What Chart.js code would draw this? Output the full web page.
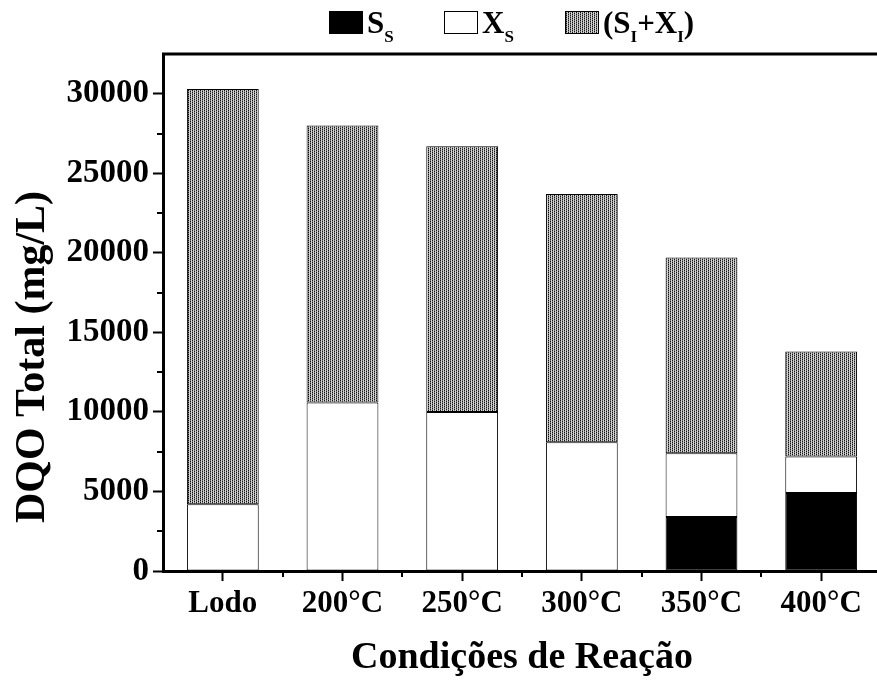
<!DOCTYPE html>
<html>
<head>
<meta charset="utf-8">
<script src="https://cdn.jsdelivr.net/npm/chart.js@4.4.1/dist/chart.umd.min.js"></script>
<style>
  html, body { margin: 0; padding: 0; background: #fff; overflow: hidden; }
</style>
</head>
<body>
<canvas id="dqo-chart" width="881" height="681"></canvas>
<script>
const categories = ['Lodo', '200°C', '250°C', '300°C', '350°C', '400°C'];
const ss   = [0, 0, 0, 0, 3400, 4900];
const xs   = [4200, 10600, 10000, 8100, 4000, 2300];
const sixi = [26100, 17400, 16700, 15600, 12300, 6600];
const yTicks = [0, 5000, 10000, 15000, 20000, 25000, 30000];

const FONT = '"Liberation Serif", "Times New Roman", serif';
const Y_TITLE = 'DQO Total (mg/L)';

// dotted grey fill for the inert fraction
function dotPattern() {
  const c = document.createElement('canvas');
  c.width = 4; c.height = 4;
  const g = c.getContext('2d');
  g.fillStyle = '#d4d4d4';
  g.fillRect(0, 0, 4, 4);
  for (let y = 0; y < 4; y++) {
    for (let x = 0; x < 4; x++) {
      const k = (x + 2 * y) % 4;
      if (k === 0) { g.fillStyle = '#111'; g.fillRect(x, y, 1, 1); }
      else if (k === 2) { g.fillStyle = '#7a7a7a'; g.fillRect(x, y, 1, 1); }
    }
  }
  return g.createPattern(c, 'repeat');
}
const grey = dotPattern();

// legend text split into normal / subscript pieces
const legendParts = [
  [['S', false], ['S', true]],
  [['X', false], ['S', true]],
  [['(S', false], ['I', true], ['+X', false], ['I', true], [')', false]]
];

const frameAndMinor = {
  id: 'frameAndMinor',
  afterDraw(chart) {
    const ctx = chart.ctx;
    const { x, y } = chart.scales;
    const area = chart.chartArea;
    ctx.save();
    ctx.strokeStyle = '#000';
    // top frame line
    ctx.lineWidth = 3;
    ctx.beginPath();
    ctx.moveTo(area.left - 1, area.top);
    ctx.lineTo(area.right, area.top);
    ctx.stroke();
    // minor ticks
    ctx.lineWidth = 2;
    ctx.beginPath();
    for (let v = 2500; v < y.max; v += 5000) {
      const py = Math.round(y.getPixelForValue(v));
      ctx.moveTo(area.left - 6, py);
      ctx.lineTo(area.left, py);
    }
    for (let i = 0; i < categories.length; i++) {
      const px = Math.round(x.getPixelForValue(i + 0.5));
      ctx.moveTo(px, area.bottom);
      ctx.lineTo(px, area.bottom + 6);
    }
    ctx.stroke();
    // rotated y title, placed a little below the axis centre
    ctx.fillStyle = '#000';
    ctx.font = 'bold 42px ' + FONT;
    ctx.textAlign = 'center';
    ctx.textBaseline = 'middle';
    ctx.translate(33, 357);
    ctx.rotate(-Math.PI / 2);
    ctx.fillText(Y_TITLE, 0, 0);
    ctx.restore();
  }
};

const subLegend = {
  id: 'subLegend',
  afterDraw(chart) {
    const ctx = chart.ctx;
    const boxX = [329, 444, 565];
    ctx.save();
    chart.data.datasets.forEach((ds, i) => {
      const bx = boxX[i];
      ctx.fillStyle = ds.backgroundColor;
      ctx.fillRect(bx, 11, 33, 22);
      ctx.lineWidth = 1;
      ctx.strokeStyle = '#000';
      ctx.strokeRect(bx + 0.5, 11.5, 33, 22);
      let tx = bx + 38;
      ctx.fillStyle = '#000';
      ctx.textBaseline = 'alphabetic';
      legendParts[i].forEach(([t, sub]) => {
        ctx.font = sub ? 'bold 17px ' + FONT : 'bold 31px ' + FONT;
        ctx.fillText(t, tx, sub ? 42 : 33);
        tx += ctx.measureText(t).width;
      });
    });
    ctx.restore();
  }
};

new Chart(document.getElementById('dqo-chart'), {
  type: 'bar',
  data: {
    labels: categories,
    datasets: [
      { label: 'Ss', data: ss, backgroundColor: '#000' },
      { label: 'Xs', data: xs, backgroundColor: '#fff' },
      { label: '(SI+XI)', data: sixi, backgroundColor: grey }
    ].map(d => Object.assign(d, {
      borderColor: '#000',
      borderWidth: 1,
      borderSkipped: false,
      barPercentage: 0.6,
      categoryPercentage: 1
    }))
  },
  options: {
    responsive: false,
    animation: false,
    layout: { padding: { top: 54, right: 0, left: 0, bottom: 0 } },
    plugins: {
      legend: { display: false },
      tooltip: { enabled: false }
    },
    scales: {
      x: {
        stacked: true,
        afterFit: (s) => { s.height = 110; },
        border: { color: '#000', width: 3 },
        grid: {
          offset: false,
          drawOnChartArea: false,
          tickLength: 10,
          tickColor: '#000',
          tickWidth: 2
        },
        ticks: {
          color: '#000',
          padding: 4,
          font: { family: FONT, size: 31, weight: 'bold' }
        },
        title: {
          display: true,
          text: 'Condições de Reação',
          color: '#000',
          padding: { top: 14, bottom: 0 },
          font: { family: FONT, size: 38, weight: 'bold' }
        }
      },
      y: {
        stacked: true,
        min: 0,
        max: 32500,
        afterFit: (s) => { s.width = 163; },
        afterBuildTicks: (s) => { s.ticks = yTicks.map(v => ({ value: v })); },
        border: { color: '#000', width: 3 },
        grid: {
          drawOnChartArea: false,
          tickLength: 10,
          tickColor: '#000',
          tickWidth: 2
        },
        ticks: {
          autoSkip: false,
          color: '#000',
          padding: 4,
          font: { family: FONT, size: 33, weight: 'bold' },
          callback: (v) => String(v)
        }
      }
    }
  },
  plugins: [frameAndMinor, subLegend]
});
</script>
</body>
</html>
